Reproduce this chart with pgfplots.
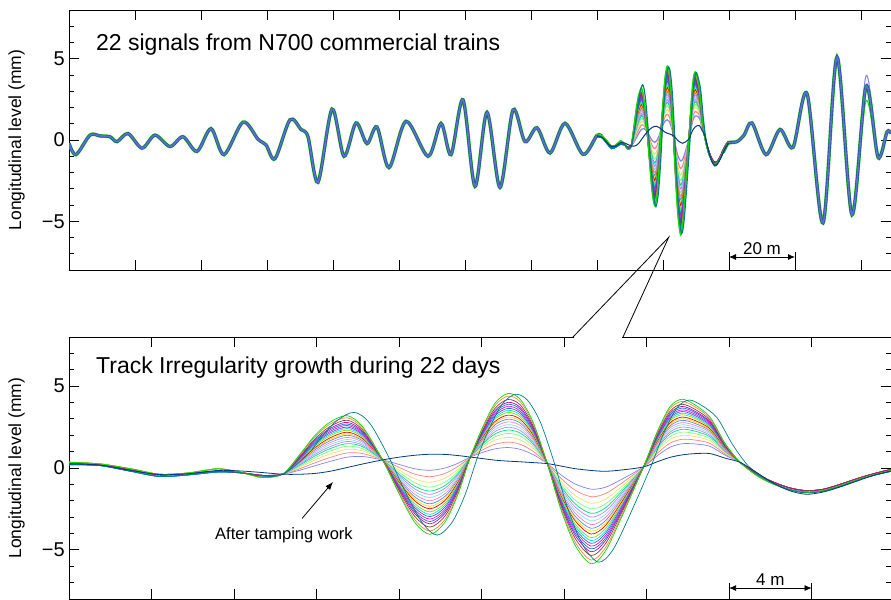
\documentclass[border=0pt]{standalone}
\usepackage{fontspec}
\setmainfont{Liberation Sans}
\usepackage{pgfplots}
\usepackage{pgfplotstable}
\pgfplotsset{compat=1.18}
\usetikzlibrary{arrows.meta}

\definecolor{c1}{HTML}{8080FF}
\definecolor{c2}{HTML}{FF8080}
\definecolor{c3}{HTML}{F0E070}
\definecolor{c4}{HTML}{80FF80}
\definecolor{c5}{HTML}{00E080}
\definecolor{c6}{HTML}{C080FF}
\definecolor{c7}{HTML}{80E0FF}
\definecolor{c8}{HTML}{FF80C0}
\definecolor{c9}{HTML}{4090FF}
\definecolor{c10}{HTML}{FFE000}
\definecolor{c11}{HTML}{FF0000}
\definecolor{c12}{HTML}{80E000}
\definecolor{c13}{HTML}{00E0E0}
\definecolor{c14}{HTML}{4060C0}
\definecolor{c15}{HTML}{FF00FF}
\definecolor{c16}{HTML}{0080C0}
\definecolor{c17}{HTML}{C000C0}
\definecolor{c18}{HTML}{804040}
\definecolor{c19}{HTML}{FF8040}
\definecolor{c20}{HTML}{00E000}
\definecolor{navyc}{HTML}{003A80}
\definecolor{tealc}{HTML}{008080}
\definecolor{bandg}{HTML}{22CC22}
\definecolor{bandc}{HTML}{00B8C8}
\definecolor{bandb}{HTML}{5A6ED6}
\definecolor{bandn}{HTML}{1E3C78}

% bottom panel (distance in m within the 40 m window), D = after tamping, c1..c20 = later signals
\pgfplotstableread{
x D c1 c2 c3 c4 c5 c6 c7 c8 c9 c10 c11 c12 c13 c14 c15 c16 c17 c18 c19 c20
0 0.25 0.30 0.30 0.35 0.35 0.35 0.30 0.20 0.30 0.20 0.35 0.30 0.35 0.20 0.20 0.30 0.20 0.30 0.30 0.35 0.35
1.5 0.18 0.20 0.20 0.25 0.25 0.25 0.20 0.15 0.20 0.15 0.25 0.20 0.25 0.15 0.15 0.20 0.15 0.20 0.20 0.25 0.25
3.0 -0.15 -0.12 -0.12 -0.05 -0.05 -0.05 -0.12 -0.20 -0.12 -0.20 -0.05 -0.12 -0.05 -0.20 -0.20 -0.12 -0.20 -0.12 -0.12 -0.05 -0.05
4.4 -0.40 -0.42 -0.42 -0.38 -0.38 -0.38 -0.42 -0.52 -0.42 -0.52 -0.38 -0.42 -0.38 -0.52 -0.52 -0.42 -0.52 -0.42 -0.42 -0.38 -0.38
5.8 -0.35 -0.33 -0.33 -0.30 -0.30 -0.30 -0.33 -0.42 -0.33 -0.42 -0.30 -0.33 -0.30 -0.42 -0.42 -0.33 -0.42 -0.33 -0.33 -0.30 -0.30
7.2 -0.15 -0.20 -0.20 -0.05 -0.05 -0.05 -0.20 -0.25 -0.20 -0.25 -0.05 -0.20 -0.05 -0.25 -0.25 -0.20 -0.25 -0.20 -0.20 -0.05 -0.05
8.3 -0.18 -0.28 -0.28 -0.25 -0.25 -0.25 -0.28 -0.30 -0.28 -0.30 -0.25 -0.28 -0.25 -0.30 -0.30 -0.28 -0.30 -0.28 -0.28 -0.25 -0.25
9.4 -0.28 -0.45 -0.45 -0.58 -0.58 -0.58 -0.45 -0.48 -0.45 -0.48 -0.58 -0.45 -0.58 -0.48 -0.48 -0.45 -0.48 -0.45 -0.45 -0.58 -0.58
10.38 -0.38 -0.37 -0.37 -0.37 -0.37 -0.37 -0.36 -0.36 -0.36 -0.36 -0.36 -0.36 -0.36 -0.36 -0.36 -0.36 -0.36 -0.36 -0.36 -0.35 -0.35
11.20 -0.38 -0.13 -0.04 0.05 0.12 0.19 0.24 0.28 0.33 0.38 0.42 0.46 0.51 0.54 0.58 0.62 0.65 0.69 0.74 0.80 0.85
11.93 -0.33 0.14 0.32 0.49 0.63 0.74 0.84 0.93 1.02 1.12 1.19 1.25 1.35 1.42 1.49 1.56 1.63 1.70 1.79 1.91 2.00
12.65 -0.20 0.40 0.64 0.85 1.03 1.18 1.30 1.42 1.54 1.66 1.75 1.84 1.96 2.05 2.14 2.23 2.32 2.41 2.53 2.68 2.80
13.48 0.03 0.66 0.92 1.14 1.33 1.49 1.62 1.74 1.87 2.00 2.09 2.19 2.31 2.41 2.50 2.60 2.69 2.79 2.92 3.07 3.20
14.25 0.25 0.70 0.88 1.04 1.17 1.29 1.38 1.47 1.56 1.65 1.71 1.78 1.87 1.94 2.01 2.07 2.14 2.21 2.30 2.41 2.50
15.22 0.50 0.49 0.49 0.48 0.48 0.48 0.48 0.47 0.47 0.47 0.47 0.47 0.46 0.46 0.46 0.46 0.46 0.46 0.45 0.45 0.45
16.05 0.67 0.20 0.01 -0.16 -0.30 -0.42 -0.52 -0.61 -0.71 -0.80 -0.87 -0.94 -1.04 -1.11 -1.18 -1.25 -1.32 -1.39 -1.49 -1.61 -1.70
16.78 0.78 -0.05 -0.38 -0.67 -0.91 -1.12 -1.29 -1.45 -1.62 -1.78 -1.91 -2.03 -2.19 -2.32 -2.44 -2.57 -2.69 -2.81 -2.98 -3.19 -3.35
17.50 0.84 -0.14 -0.53 -0.87 -1.17 -1.41 -1.61 -1.80 -2.00 -2.19 -2.34 -2.49 -2.68 -2.83 -2.97 -3.12 -3.27 -3.41 -3.61 -3.85 -4.05
18.23 0.83 0.00 -0.33 -0.62 -0.86 -1.07 -1.24 -1.40 -1.57 -1.73 -1.86 -1.98 -2.14 -2.27 -2.39 -2.52 -2.64 -2.76 -2.93 -3.14 -3.30
18.86 0.76 0.29 0.10 -0.07 -0.21 -0.33 -0.42 -0.51 -0.61 -0.70 -0.77 -0.85 -0.94 -1.01 -1.08 -1.15 -1.22 -1.29 -1.39 -1.51 -1.60
19.44 0.67 0.66 0.65 0.65 0.64 0.64 0.64 0.63 0.63 0.63 0.62 0.62 0.62 0.62 0.62 0.61 0.61 0.61 0.61 0.60 0.60
20.02 0.58 0.94 1.09 1.22 1.33 1.42 1.49 1.56 1.64 1.71 1.76 1.82 1.89 1.95 2.00 2.05 2.11 2.16 2.24 2.33 2.40
20.65 0.48 1.17 1.45 1.70 1.90 2.08 2.22 2.35 2.49 2.63 2.74 2.84 2.98 3.08 3.19 3.29 3.40 3.50 3.64 3.81 3.95
21.28 0.42 1.25 1.58 1.87 2.11 2.32 2.49 2.65 2.82 2.98 3.11 3.23 3.39 3.52 3.64 3.77 3.89 4.01 4.18 4.39 4.55
21.87 0.38 1.14 1.45 1.72 1.95 2.14 2.29 2.44 2.60 2.75 2.86 2.98 3.13 3.25 3.36 3.47 3.59 3.70 3.86 4.05 4.20
22.50 0.33 0.82 1.02 1.20 1.34 1.47 1.57 1.66 1.76 1.86 1.94 2.01 2.11 2.18 2.26 2.33 2.41 2.48 2.58 2.70 2.80
23.18 0.27 0.28 0.28 0.28 0.28 0.28 0.29 0.29 0.29 0.29 0.29 0.29 0.29 0.29 0.29 0.29 0.29 0.29 0.29 0.30 0.30
23.81 0.13 -0.38 -0.58 -0.76 -0.91 -1.03 -1.14 -1.24 -1.34 -1.44 -1.52 -1.59 -1.69 -1.77 -1.84 -1.92 -2.00 -2.07 -2.17 -2.30 -2.40
24.53 -0.04 -0.97 -1.35 -1.67 -1.95 -2.18 -2.37 -2.56 -2.74 -2.93 -3.07 -3.21 -3.40 -3.54 -3.68 -3.81 -3.95 -4.09 -4.28 -4.51 -4.70
25.31 -0.15 -1.29 -1.75 -2.15 -2.49 -2.77 -3.00 -3.23 -3.46 -3.68 -3.86 -4.03 -4.25 -4.43 -4.60 -4.77 -4.94 -5.11 -5.34 -5.62 -5.85
25.99 -0.20 -1.18 -1.57 -1.92 -2.21 -2.45 -2.65 -2.85 -3.04 -3.24 -3.39 -3.53 -3.73 -3.88 -4.02 -4.17 -4.32 -4.46 -4.66 -4.90 -5.10
26.72 -0.13 -0.74 -0.99 -1.21 -1.39 -1.54 -1.67 -1.79 -1.91 -2.03 -2.13 -2.22 -2.34 -2.43 -2.53 -2.62 -2.71 -2.80 -2.92 -3.08 -3.20
27.83 0.06 0.05 0.04 0.04 0.04 0.03 0.03 0.03 0.03 0.02 0.02 0.02 0.02 0.02 0.01 0.01 0.01 0.01 0.01 0.00 0.00
28.51 0.38 0.74 0.89 1.02 1.13 1.22 1.29 1.36 1.44 1.51 1.56 1.62 1.69 1.75 1.80 1.85 1.91 1.96 2.04 2.13 2.20
29.14 0.65 1.27 1.52 1.74 1.92 2.08 2.20 2.32 2.45 2.57 2.67 2.76 2.88 2.98 3.07 3.16 3.25 3.35 3.47 3.63 3.75
29.72 0.80 1.48 1.75 1.99 2.19 2.36 2.50 2.64 2.77 2.91 3.01 3.11 3.25 3.35 3.45 3.55 3.66 3.76 3.89 4.06 4.20
30.35 0.88 1.47 1.71 1.92 2.10 2.25 2.37 2.48 2.60 2.72 2.81 2.90 3.02 3.11 3.20 3.29 3.38 3.46 3.58 3.73 3.85
31.08 0.88 1.32 1.50 1.66 1.79 1.90 1.99 2.08 2.17 2.26 2.32 2.39 2.48 2.55 2.61 2.68 2.75 2.81 2.90 3.01 3.10
31.81 0.60 0.78 0.85 0.92 0.97 1.01 1.05 1.09 1.12 1.16 1.19 1.21 1.25 1.28 1.30 1.33 1.36 1.38 1.42 1.46 1.50
32.53 0.35 0.35 0.35 0.35 0.35 0.35 0.35 0.35 0.35 0.35 0.35 0.35 0.35 0.35 0.35 0.35 0.35 0.35 0.35 0.35 0.35
33.3 -0.24 -0.30 -0.30 -0.42 -0.42 -0.42 -0.30 -0.38 -0.30 -0.38 -0.42 -0.30 -0.42 -0.38 -0.38 -0.30 -0.38 -0.30 -0.30 -0.42 -0.42
34.0 -0.82 -0.78 -0.78 -0.90 -0.90 -0.90 -0.78 -0.88 -0.78 -0.88 -0.90 -0.78 -0.90 -0.88 -0.88 -0.78 -0.88 -0.78 -0.78 -0.90 -0.90
34.9 -1.37 -1.20 -1.20 -1.32 -1.32 -1.32 -1.20 -1.30 -1.20 -1.30 -1.32 -1.20 -1.32 -1.30 -1.30 -1.20 -1.30 -1.20 -1.20 -1.32 -1.32
35.73 -1.60 -1.38 -1.38 -1.50 -1.50 -1.50 -1.38 -1.47 -1.38 -1.47 -1.50 -1.38 -1.50 -1.47 -1.47 -1.38 -1.47 -1.38 -1.38 -1.50 -1.50
36.55 -1.47 -1.30 -1.30 -1.38 -1.38 -1.38 -1.30 -1.40 -1.30 -1.40 -1.38 -1.30 -1.38 -1.40 -1.40 -1.30 -1.40 -1.30 -1.30 -1.38 -1.38
37.38 -1.16 -1.00 -1.00 -1.08 -1.08 -1.08 -1.00 -1.12 -1.00 -1.12 -1.08 -1.00 -1.08 -1.12 -1.12 -1.00 -1.12 -1.00 -1.00 -1.08 -1.08
38.2 -0.80 -0.65 -0.65 -0.72 -0.72 -0.72 -0.65 -0.75 -0.65 -0.75 -0.72 -0.65 -0.72 -0.75 -0.75 -0.65 -0.75 -0.65 -0.65 -0.72 -0.72
39.0 -0.45 -0.35 -0.35 -0.42 -0.42 -0.42 -0.35 -0.45 -0.35 -0.45 -0.42 -0.35 -0.42 -0.45 -0.45 -0.35 -0.45 -0.35 -0.35 -0.42 -0.42
39.85 -0.18 -0.08 -0.08 -0.15 -0.15 -0.15 -0.08 -0.20 -0.08 -0.20 -0.15 -0.08 -0.15 -0.20 -0.20 -0.08 -0.20 -0.08 -0.08 -0.15 -0.15
}\bottomdata

\pgfplotstableread{
x y
0 0.22
1.5 0.15
3.0 -0.20
4.4 -0.50
5.8 -0.40
7.2 -0.20
8.3 -0.28
9.4 -0.50
10.38 -0.38
11.55 0.80
12.28 1.95
13.00 2.90
13.83 3.40
14.60 2.70
15.57 0.50
16.40 -1.70
17.13 -3.35
17.85 -4.10
18.58 -3.30
19.21 -1.60
19.79 0.60
20.37 2.40
21.00 3.90
21.63 4.50
22.22 4.15
22.85 2.80
23.53 0.30
24.16 -2.40
24.88 -4.65
25.66 -5.75
26.34 -5.05
27.07 -3.20
28.18 0.00
28.86 2.20
29.49 3.70
30.07 4.15
30.70 3.80
31.43 3.05
32.16 1.45
32.88 0.20
33.5 -0.45
34.1 -0.90
34.9 -1.32
35.73 -1.52
36.55 -1.42
37.38 -1.12
38.2 -0.76
39.0 -0.45
39.85 -0.20
}\tealdata

% top panel, common part left of the 40 m window (same x origin as the window)
\pgfplotstableread{
x y
-160.00 -0.20
-157.88 -0.90
-153.64 0.30
-150.61 0.25
-147.58 0.20
-145.45 -0.10
-142.12 0.40
-137.88 -0.50
-133.94 0.30
-129.39 -0.40
-125.45 0.20
-121.21 -0.70
-116.97 0.70
-113.03 -0.90
-107.27 1.10
-102.73 0.05
-100.30 -0.30
-97.58 -1.15
-93.03 1.25
-89.70 0.65
-87.58 0.20
-84.55 -2.60
-80.30 1.90
-76.67 -1.00
-73.03 1.05
-69.70 -0.22
-66.67 0.80
-63.03 -1.70
-57.88 1.15
-51.21 -1.00
-47.27 1.02
-44.24 -0.90
-40.61 2.47
-36.97 -2.85
-33.33 1.70
-29.39 -2.92
-25.45 1.85
-21.82 -0.10
-18.18 0.75
-14.24 -0.80
-9.70 1.03
-4.24 -0.88
0.00 0.28
1.50 0.20
}\topL

\pgfplotstableread{
x y yp yg
38.20 -0.75 -0.65 -0.72
39.00 -0.43 -0.35 -0.42
39.85 -0.18 -0.08 -0.15
42.42 -0.10 -0.05 -0.10
44.55 0.30 0.32 0.28
46.97 1.05 1.10 1.00
51.21 -0.90 -0.85 -0.92
55.45 0.65 0.70 0.62
59.39 -0.45 -0.40 -0.48
63.64 2.85 2.90 2.80
68.48 -5.10 -5.05 -5.05
72.73 5.10 5.05 5.00
77.27 -4.60 -4.55 -4.50
81.52 3.30 3.95 2.40
85.15 -1.05 -0.90 -1.20
87.88 0.50 0.55 0.45
89.09 0.40 0.45 0.35
}\topR

\pgfplotsset{
  myaxis/.style={
    scale only axis, width=822bp,
    ymin=-8, ymax=8,
    ytick={-5,0,5}, yticklabels={−5,0,5},
    minor ytick={-7,-6,-4,-3,-2,-1,1,2,3,4,6,7},
    xticklabels={},
    tick align=inside,
    major tick length=10bp, minor tick length=5bp,
    every tick/.style={black, line width=0.9bp},
    axis line style={line width=1bp},
    yticklabel style={font=\fontsize{20bp}{24bp}\selectfont, inner sep=2bp, xshift=-2bp},
    clip=true,
  }
}

\begin{document}
\begin{tikzpicture}
%---------------- top panel
\begin{axis}[myaxis, at={(0bp,0bp)}, anchor=north west, height=260bp,
  xmin=-160, xmax=89.09, xtick={-160,-140,...,80}]
  \addplot[smooth, color=c20, line width=1bp] table[x=x,y=yg]{\topR};
  \addplot[smooth, color=c1, line width=1bp] table[x=x,y=yp]{\topR};
  \addplot[smooth, color=bandg, line width=3.6bp] table[x=x,y=y]{\topL};
  \addplot[smooth, color=bandg, line width=3.6bp] table[x=x,y=y]{\topR};
  \addplot[smooth, color=bandn, line width=2.6bp] table[x=x,y=y]{\topL};
  \addplot[smooth, color=bandn, line width=2.6bp] table[x=x,y=y]{\topR};
  \addplot[smooth, color=bandb, line width=1.8bp] table[x=x,y=y]{\topL};
  \addplot[smooth, color=bandb, line width=1.8bp] table[x=x,y=y]{\topR};
  \pgfplotsinvokeforeach{1,...,20}{
    \addplot[smooth, color=c#1, line width=1.2bp] table[x=x,y=c#1]{\bottomdata};
  }
  \addplot[smooth, color=tealc, line width=1.2bp] table[x=x,y=y]{\tealdata};
  \addplot[smooth, color=navyc, line width=1bp] table[x=x,y=D]{\bottomdata};
  \node[anchor=base west, font=\fontsize{23bp}{27bp}\selectfont, inner sep=0]
    at (rel axis cs:0.0328,0.846) {22 signals from N700 commercial trains};
  \draw[{Latex[length=7bp,width=6bp]}-{Latex[length=7bp,width=6bp]}, line width=0.8bp]
    (axis cs:40,-7.2) -- (axis cs:60,-7.2);
  \draw[line width=0.8bp] (axis cs:40,-8) -- (axis cs:40,-6.9);
  \draw[line width=0.8bp] (axis cs:60,-8) -- (axis cs:60,-6.9);
  \node[anchor=base, font=\fontsize{17bp}{20bp}\selectfont, inner sep=0]
    at (axis cs:50,-7.02) {20 m};
\end{axis}
%---------------- bottom panel
\begin{axis}[myaxis, at={(0bp,-327bp)}, anchor=north west, height=262bp,
  xmin=0, xmax=39.85, xtick={0,4,...,36}]
  \pgfplotsinvokeforeach{1,...,20}{
    \addplot[smooth, color=c#1, line width=0.7bp] table[x=x,y=c#1]{\bottomdata};
  }
  \addplot[smooth, color=tealc, line width=0.7bp] table[x=x,y=y]{\tealdata};
  \addplot[smooth, color=navyc, line width=0.8bp] table[x=x,y=D]{\bottomdata};
  \node[anchor=base west, font=\fontsize{23bp}{27bp}\selectfont, inner sep=0]
    at (rel axis cs:0.0328,0.859) {Track Irregularity growth during 22 days};
  \draw[-{Latex[length=8bp,width=6bp]}, line width=0.8bp]
    (axis cs:11.3,-3.08) -- (axis cs:12.8,-0.85);
  \node[anchor=base, font=\fontsize{16.5bp}{20bp}\selectfont, inner sep=0]
    at (axis cs:10.42,-4.37) {After tamping work};
  \draw[{Latex[length=7bp,width=6bp]}-{Latex[length=7bp,width=6bp]}, line width=0.8bp]
    (axis cs:32,-7.33) -- (axis cs:36,-7.33);
  \draw[line width=0.8bp] (axis cs:32,-8) -- (axis cs:32,-7.0);
  \draw[line width=0.8bp] (axis cs:36,-8) -- (axis cs:36,-7.0);
  \node[anchor=base, font=\fontsize{17bp}{20bp}\selectfont, inner sep=0]
    at (axis cs:34,-7.15) {4 m};
\end{axis}
%---------------- y labels
\node[rotate=90, font=\fontsize{17.5bp}{20bp}\selectfont] at (-52.5bp,-130bp) {Longitudinal level (mm)};
\node[rotate=90, font=\fontsize{17.5bp}{20bp}\selectfont] at (-52.5bp,-458bp) {Longitudinal level (mm)};
%---------------- callout
\draw[white, line width=2.5bp] (505bp,-327bp) -- (553bp,-327bp);
\draw[line width=0.8bp] (504bp,-327bp) -- (599.7bp,-227.3bp) -- (554bp,-327bp);
\pgfresetboundingbox
\path[use as bounding box] (-69bp,10bp) rectangle (822bp,-590bp);
\end{tikzpicture}
\end{document}
